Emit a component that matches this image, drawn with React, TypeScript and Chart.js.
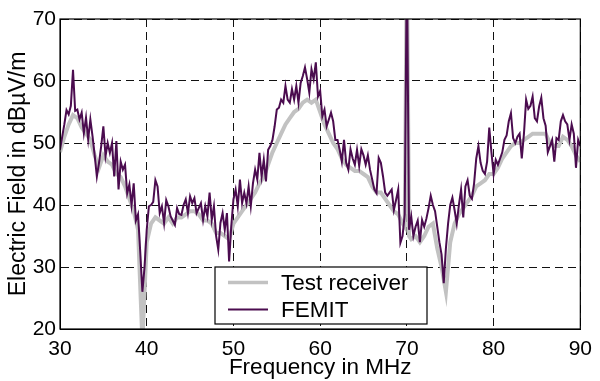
import React, { useEffect, useRef } from "react";
import { Chart, registerables } from "chart.js";

Chart.register(...registerables);

const FREQ_MIN = 30;
const FREQ_MAX = 90;
const FEMIT_STEP = 0.25;
const RECEIVER_STEP = 0.5;
const xTickValues = [30, 40, 50, 60, 70, 80, 90];
const yTickValues = [20, 30, 40, 50, 60, 70];
const Y_MIN = 20;
const Y_MAX = 70;

// FEMIT, one row per MHz (x.00, x.25, x.50, x.75)
const femitValues = [
  48.9, 51, 53, 55.3,
  54.6, 56, 61.8, 55.2,
  55.4, 53.8, 54.9, 51.6,
  54.1, 50.6, 53.8, 51.1,
  48, 44.6, 46.8, 49.5,
  52.7, 47.9, 50, 48.4,
  50, 44.6, 50.3, 42.5,
  47, 45.7, 46.5, 41.9,
  43.3, 40, 43.5, 37.5,
  38.5, 32.5, 26, 30,
  36, 39.8, 40, 40.5,
  44, 43, 38.7, 39.8,
  37.1, 40.8, 39.8, 38.2,
  37.5, 36.8, 39.5, 38.5,
  38.4, 40, 40.9, 38.7,
  41.4, 40.3, 41.1, 38.7,
  39.5, 40.3, 37.6, 39.8,
  38.2, 42, 37.6, 39.8,
  35, 32.8, 37.1, 38.7,
  36, 38.7, 30.9, 36.6,
  40.9, 42.5, 39.8, 44.1,
  40.3, 42, 40.3, 43,
  39.8, 43.5, 45.7, 44.1,
  48.4, 44.6, 47.3, 43.8,
  48.9, 49.5, 50.5, 52.7,
  55.4, 55.7, 57, 56.5,
  59.2, 57, 56.5, 58.7,
  57, 59.2, 56.5, 59.7,
  60.8, 62.2, 60.3, 58.1,
  61.9, 60.3, 63, 57.5,
  58.4, 54.3, 55.4, 52.7,
  53.8, 54.9, 53.5, 50.5,
  50.5, 48.9, 47, 50.5,
  46.8, 45.7, 49, 47.5,
  46.5, 48.9, 46.3, 49,
  48, 46.5, 48, 45.7,
  44.1, 42.5, 41.9, 47.6,
  46.8, 44.6, 42, 41.5,
  42, 42.5, 39.2, 40.8,
  42.5, 33.9, 35, 38.5,
  80, 36, 38.2, 35,
  36.5, 37.5, 34, 37.6,
  36.5, 37.8, 39.5, 41.5,
  40, 39, 36.5, 34,
  32, 27.4, 33, 37,
  40, 41.2, 39.2, 37,
  40, 42.5, 38, 43,
  44, 41.5, 41, 43.5,
  47.5, 49.5, 46.8, 45.5,
  45, 47, 52.5, 48.5,
  45, 47.3, 46.5, 47.5,
  48.5, 50.5, 51.2, 53.5,
  54.8, 50.8, 50, 51,
  51.5, 47.5, 51.5, 57,
  55.5, 56, 57.5, 54,
  53.5, 55.9, 57.3, 54,
  52.8, 48.5, 49.5, 50.5,
  47, 50.8, 50.5, 53.5,
  54.5, 53.5, 53, 50.5,
  53, 51.5, 46, 50.5,
  49.5,
];

// Test receiver, one row per MHz (x.0, x.5)
const receiverValues = [
  48.5, 51,
  53, 54.5,
  54, 52.5,
  51.5, 50.5,
  48, 46,
  48, 47,
  46.5, 45,
  44.5, 43,
  41, 39,
  36, 18,
  34, 37,
  38, 37.5,
  37, 38,
  37, 38,
  38, 38.5,
  39, 39,
  38.5, 37.5,
  37.5, 37,
  35.5, 35.5,
  35, 34.5,
  37, 38,
  39, 40,
  41, 42,
  43.5, 44.5,
  46.5, 48.5,
  50, 51.5,
  53, 54,
  55, 55.5,
  56.5, 57,
  56.5, 57,
  55, 53,
  51.5, 50,
  49, 47.5,
  46.5, 46,
  45.5, 45.5,
  45, 44.5,
  43, 42,
  42, 41,
  40, 39,
  38.5, 37,
  80, 34.5,
  35, 34,
  35, 36.5,
  37, 33,
  30, 26,
  34, 37,
  38.5, 39.5,
  40.5, 41.5,
  43, 43.5,
  44, 45,
  45, 46,
  47.5, 48.5,
  49.5, 50,
  50, 50.5,
  51, 51.5,
  51.5, 51.5,
  51.5, 50,
  49.5, 49.5,
  51, 50.5,
  49.5, 48,
  47,
];
// extra receiver readings around the 70 MHz spike
const receiverExtraFreq = [69.75, 70.25];
const receiverExtraValues = [36.5, 35];

const seriesLabels = ["Test receiver", "FEMIT"];
const seriesColors = ["#c2c2c2", "#4b0c4f"];
const xTitle = "Frequency in MHz";
const yTitle = "Electric Field in dB\u00b5V/m";

const FONT = "'Liberation Sans', Arial, Helvetica, sans-serif";

export default function App() {
  const canvasRef = useRef<HTMLCanvasElement | null>(null);

  useEffect(() => {
    document.body.style.margin = "0";
    const canvas = canvasRef.current;
    if (!canvas) return;

    const femitPoints = femitValues.map((y, i) => ({ x: FREQ_MIN + i * FEMIT_STEP, y }));
    const receiverPoints = receiverValues
      .map((y, i) => ({ x: FREQ_MIN + i * RECEIVER_STEP, y }))
      .concat(receiverExtraFreq.map((x, i) => ({ x, y: receiverExtraValues[i] })))
      .sort((a, b) => a.x - b.x);

    const framePlugin = {
      id: "frameAndLegend",
      afterDraw(chart: any) {
        const ctx = chart.ctx;
        const a = chart.chartArea;
        ctx.save();
        ctx.strokeStyle = "#000";
        ctx.lineWidth = 1.2;
        ctx.setLineDash([]);
        ctx.strokeRect(a.left, a.top, a.right - a.left, a.bottom - a.top);

        // legend box
        const bx = a.left + 155;
        const by = a.bottom - 62;
        const bw = 212;
        const bh = 57;
        ctx.fillStyle = "#fff";
        ctx.fillRect(bx, by, bw, bh);
        ctx.lineWidth = 1.2;
        ctx.strokeStyle = "#000";
        ctx.strokeRect(bx, by, bw, bh);
        const rows = [by + 15.5, by + 42.5];
        const widths = [3.5, 2];
        ctx.font = `22.5px ${FONT}`;
        ctx.textBaseline = "middle";
        ctx.textAlign = "left";
        rows.forEach((ry, i) => {
          ctx.beginPath();
          ctx.strokeStyle = seriesColors[i];
          ctx.lineWidth = widths[i];
          ctx.moveTo(bx + 13, ry);
          ctx.lineTo(bx + 53, ry);
          ctx.stroke();
          ctx.fillStyle = "#000";
          ctx.fillText(seriesLabels[i], bx + 66, ry + 1);
        });
        ctx.restore();
      },
    };

    const chart = new Chart(canvas, {
      type: "line",
      data: {
        datasets: [
          {
            label: seriesLabels[0],
            data: receiverPoints,
            borderColor: seriesColors[0],
            borderWidth: 4,
            pointRadius: 0,
            tension: 0,
            fill: false,
            order: 1,
            clip: 0,
          } as any,
          {
            label: seriesLabels[1],
            data: femitPoints,
            borderColor: seriesColors[1],
            borderWidth: 2,
            pointRadius: 0,
            tension: 0,
            fill: false,
            order: 0,
            clip: 0,
          } as any,
        ],
      },
      options: {
        animation: false,
        responsive: false,
        events: [],
        layout: { padding: { left: 5, right: 13, top: 19, bottom: 0 } },
        plugins: {
          legend: { display: false },
          tooltip: { enabled: false },
        },
        scales: {
          x: {
            type: "linear",
            min: FREQ_MIN,
            max: FREQ_MAX,
            afterBuildTicks: (s: any) => {
              s.ticks = xTickValues.map((v) => ({ value: v }));
            },
            afterFit: (s: any) => {
              s.height = 52;
            },
            ticks: {
              font: { family: FONT, size: 21 },
              color: "#000",
              padding: 8,
              maxRotation: 0,
              autoSkip: false,
            },
            grid: { color: "#111", lineWidth: 1, drawTicks: false },
            border: { display: true, color: "#000", width: 1, dash: [8, 5] },
            title: {
              display: true,
              text: xTitle,
              font: { family: FONT, size: 22.5 },
              color: "#000",
              padding: { top: 0, bottom: 0 },
            },
          },
          y: {
            type: "linear",
            min: Y_MIN,
            max: Y_MAX,
            afterBuildTicks: (s: any) => {
              s.ticks = yTickValues.map((v) => ({ value: v }));
            },
            afterFit: (s: any) => {
              s.width = 55;
            },
            ticks: {
              font: { family: FONT, size: 21 },
              color: "#000",
              padding: 4,
              autoSkip: false,
            },
            grid: { color: "#111", lineWidth: 1, drawTicks: false },
            border: { display: true, color: "#000", width: 1, dash: [8, 5] },
            title: {
              display: true,
              text: yTitle,
              font: { family: FONT, size: 23 },
              color: "#000",
              padding: { top: 0, bottom: 0 },
            },
          },
        },
      } as any,
      plugins: [framePlugin],
    });

    return () => {
      chart.destroy();
    };
  }, []);

  return (
    <div style={{ position: "absolute", left: 0, top: 0, width: 600, height: 381, background: "#fff" }}>
      <canvas ref={canvasRef} width={600} height={381} style={{ display: "block" }} />
    </div>
  );
}
